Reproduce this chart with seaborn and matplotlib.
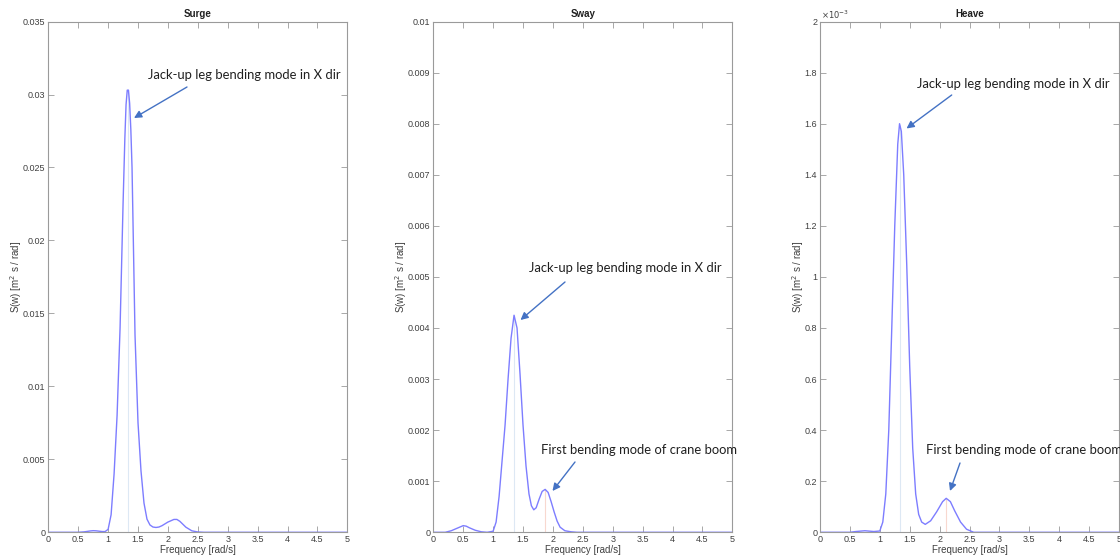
import numpy as np
import matplotlib
matplotlib.use("Agg")
import matplotlib.pyplot as plt
from matplotlib.ticker import FuncFormatter, MultipleLocator
import seaborn as sns

# frequency [rad/s] and spectral values (values in 1e-3 units)
surge_w = [0.0, 0.5, 0.6, 0.7, 0.75, 0.8, 0.9, 0.95, 1.0, 1.05, 1.1, 1.15, 1.2, 1.25,
           1.28, 1.3, 1.32, 1.34, 1.36, 1.38, 1.4, 1.45, 1.5, 1.55, 1.6, 1.65, 1.7, 1.75, 1.8,
           1.85, 1.9, 2.0, 2.1, 2.15, 2.2, 2.3, 2.4, 2.5, 2.6, 5.0]
surge_s = [0.0, 0.0, 0.03, 0.09, 0.11, 0.10, 0.05, 0.05, 0.2, 1.2, 4.0, 8.0, 14.0, 22.5,
           27.0, 29.3, 30.3, 30.3, 29.4, 27.6, 25.0, 13.5, 7.5, 4.2, 2.0, 0.9, 0.5, 0.36, 0.33,
           0.36, 0.45, 0.7, 0.88, 0.88, 0.75, 0.35, 0.1, 0.02, 0.0, 0.0]

sway_w = [0.0, 0.2, 0.3, 0.4, 0.5, 0.55, 0.6, 0.7, 0.8, 0.9, 1.0, 1.05, 1.1, 1.15, 1.2,
          1.25, 1.3, 1.35, 1.4, 1.45, 1.5, 1.55, 1.6, 1.64, 1.68, 1.72, 1.77, 1.82, 1.87, 1.92,
          1.97, 2.02, 2.07, 2.12, 2.2, 2.3, 2.4, 5.0]
sway_s = [0.0, 0.0, 0.03, 0.08, 0.13, 0.12, 0.09, 0.04, 0.01, 0.0, 0.02, 0.2, 0.7, 1.4,
          2.1, 3.0, 3.8, 4.25, 4.0, 3.1, 2.1, 1.3, 0.75, 0.52, 0.44, 0.48, 0.65, 0.8, 0.84, 0.78,
          0.6, 0.4, 0.22, 0.1, 0.03, 0.01, 0.0, 0.0]

heave_w = [0.0, 0.5, 0.6, 0.75, 0.9, 1.0, 1.05, 1.1, 1.15, 1.2, 1.25, 1.3, 1.33, 1.36,
           1.4, 1.45, 1.5, 1.55, 1.6, 1.65, 1.7, 1.76, 1.85, 1.95, 2.05, 2.11, 2.18, 2.25,
           2.35, 2.45, 2.57, 5.0]
heave_s = [0.0, 0.0, 0.003, 0.006, 0.003, 0.005, 0.04, 0.15, 0.4, 0.8, 1.2, 1.52, 1.6, 1.57,
           1.4, 1.05, 0.65, 0.33, 0.15, 0.07, 0.04, 0.031, 0.045, 0.08, 0.12, 0.133, 0.12,
           0.085, 0.04, 0.012, 0.0, 0.0]

# mode frequencies marked with faint vertical lines
surge_modes = [1.33]
sway_modes = [1.35, 1.87]
heave_modes = [1.335, 2.11]

titles = ["Surge", "Sway", "Heave"]
ymax = [0.035, 0.01, 0.002]
ystep = [0.005, 0.001, 0.0002]

sns.set_theme(style="ticks")
plt.rcParams['font.family'] = ['Liberation Sans', 'DejaVu Sans']

fig = plt.figure(figsize=(11.2, 5.6), dpi=100)
lefts = [48.3 / 1120, 433.3 / 1120, 820 / 1120]

series = [(surge_w, surge_s, surge_modes),
          (sway_w, sway_s, sway_modes),
          (heave_w, heave_s, heave_modes)]

line_col = "#7d7dff"
mode_cols = ["#dde8f4", "#f8d8cf"]
axes = []
for i, (w, s, modes) in enumerate(series):
    ax = fig.add_axes([lefts[i], 0.0495, 0.267, 0.912])
    axes.append(ax)
    s = np.array(s) * 1e-3
    for j, m in enumerate(modes):
        peak = np.interp(m, w, s)
        ax.vlines(m, 0, peak, color=mode_cols[j], lw=0.8, zorder=1)
    sns.lineplot(x=w, y=s, ax=ax, color=line_col, lw=1.0, zorder=2)
    ax.set_xlim(0, 5)
    ax.set_ylim(0, ymax[i])
    ax.xaxis.set_major_locator(MultipleLocator(0.5))
    ax.yaxis.set_major_locator(MultipleLocator(ystep[i]))
    if i == 2:
        ax.yaxis.set_major_formatter(FuncFormatter(lambda v, p: '%g' % round(v * 1e3, 6)))
        ax.text(0.005, 1.002, r'$\times10^{-3}$', transform=ax.transAxes, fontsize=6,
                color='#404040', ha='left', va='bottom')
    else:
        ax.yaxis.set_major_formatter(FuncFormatter(lambda v, p: '%g' % round(v, 6)))
    ax.xaxis.set_major_formatter(FuncFormatter(lambda v, p: '%g' % v))
    ax.tick_params(direction='in', top=True, right=True, length=4, width=0.6,
                   labelsize=6.5, colors='#9a9a9a', labelcolor='#404040', pad=2)
    for sp in ax.spines.values():
        sp.set_color('#9a9a9a')
        sp.set_linewidth(0.8)
    ax.set_title(titles[i], fontsize=7, fontweight='bold', color='#202020', pad=3)
    ax.set_xlabel('Frequency [rad/s]', fontsize=7, color='#404040', labelpad=1)
    ax.set_ylabel(r'S(w) [m$^2$ s / rad]', fontsize=7, color='#404040', labelpad=-1)

# callouts (positions in figure pixels)
arrow_col = "#4472c4"
notes = [
    ("Jack-up leg bending mode in X dir", (147.7, 75), (187, 87), (134, 118)),
    ("Jack-up leg bending mode in X dir", (529.3, 268.5), (565, 282), (520.5, 320)),
    ("First bending mode of crane boom", (541, 449.5), (575, 462), (552.5, 491)),
    ("Jack-up leg bending mode in X dir", (916.7, 83.5), (951.7, 95), (906.5, 128.5)),
    ("First bending mode of crane boom", (926, 449.5), (960, 463), (950, 491)),
]
for label, tpos, tail, head in notes:
    fig.text(tpos[0] / 1120, 1 - tpos[1] / 560, label, fontsize=9.4,
             family=['Lato', 'DejaVu Sans'], color='#202020', ha='left', va='center')
    fig.add_artist(matplotlib.patches.FancyArrowPatch(
        (tail[0] / 1120, 1 - tail[1] / 560), (head[0] / 1120, 1 - head[1] / 560),
        transform=fig.transFigure, arrowstyle='-|>', mutation_scale=11,
        color=arrow_col, lw=1.0, shrinkA=0, shrinkB=0))

fig.savefig("out.png", dpi=100)
